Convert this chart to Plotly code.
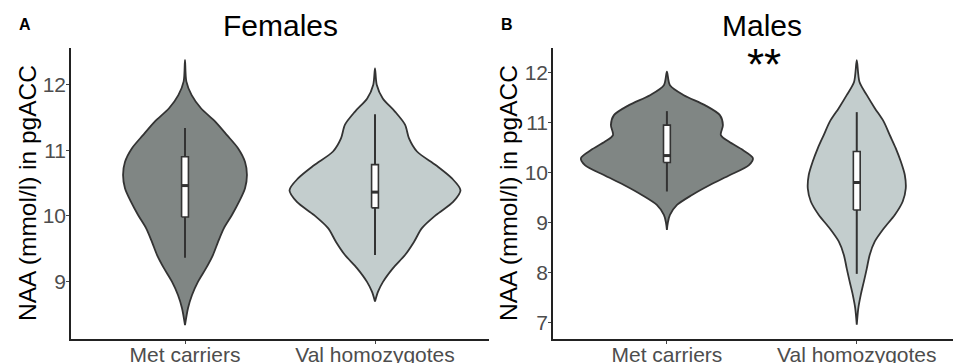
import plotly.graph_objects as go

# ---------------- data ----------------
categories = ["Met carriers", "Val homozygotes"]

# Violin outlines: NAA value (y) and half-width of the density (category units)
fem_met_y  = [12.38, 12.05, 11.84, 11.64, 11.44, 11.23, 11.03, 10.82, 10.62, 10.42,
              10.21, 10.01, 9.81, 9.60, 9.40, 9.20, 8.99, 8.79, 8.59, 8.33]
fem_met_hw = [0.0, 0.007, 0.035, 0.084, 0.158, 0.221, 0.279, 0.316, 0.326, 0.316,
              0.284, 0.247, 0.205, 0.174, 0.147, 0.111, 0.068, 0.037, 0.016, 0.0]

fem_val_y  = [12.25, 12.00, 11.79, 11.59, 11.39, 11.18, 10.98, 10.77, 10.57, 10.39,
              10.21, 10.01, 9.81, 9.60, 9.40, 9.20, 8.99, 8.84, 8.69]
fem_val_hw = [0.0, 0.009, 0.041, 0.105, 0.158, 0.179, 0.221, 0.321, 0.405, 0.450,
              0.411, 0.321, 0.247, 0.205, 0.158, 0.095, 0.042, 0.016, 0.0]

mal_met_y  = [12.02, 11.75, 11.55, 11.35, 11.15, 10.95, 10.75, 10.62, 10.45, 10.29,
              10.15, 9.95, 9.75, 9.55, 9.35, 9.15, 9.00, 8.85]
mal_met_hw = [0.0, 0.016, 0.089, 0.200, 0.279, 0.295, 0.284, 0.326, 0.400, 0.453,
              0.432, 0.332, 0.226, 0.132, 0.053, 0.016, 0.005, 0.0]

mal_val_y  = [12.25, 11.82, 11.55, 11.29, 11.02, 10.75, 10.49, 10.22, 9.95, 9.68,
              9.42, 9.15, 8.88, 8.62, 8.35, 8.08, 7.81, 7.55, 7.28, 6.95]
mal_val_hw = [0.0, 0.014, 0.053, 0.095, 0.142, 0.174, 0.205, 0.232, 0.253, 0.258,
              0.242, 0.200, 0.142, 0.095, 0.068, 0.053, 0.037, 0.021, 0.008, 0.0]

# Box summaries per category: [Met carriers, Val homozygotes]
fem_q1  = [9.98, 10.12]
fem_med = [10.46, 10.36]
fem_q3  = [10.90, 10.78]
fem_lo  = [9.36, 9.40]
fem_hi  = [11.34, 11.55]

mal_q1  = [10.20, 9.25]
mal_med = [10.34, 9.80]
mal_q3  = [10.95, 10.42]
mal_lo  = [9.62, 7.97]
mal_hi  = [11.23, 11.21]

y_label = "NAA (mmol/l) in pgACC"
fem_ticks = [9, 10, 11, 12]
mal_ticks = [7, 8, 9, 10, 11, 12]

# ---------------- styling ----------------
FILLS = ["#808684", "#c3cdcd"]
OUTLINE = "#333333"
FONT = "Liberation Sans, Arial, sans-serif"
BOX_HALF = 0.018

# page body margin offsets the figure by 8px, so the figure is sized to fit
OFF = 8
W, H = 961 - OFF, 363 - OFF


def fx(p):
    return (p - OFF) / W


def fy(p):
    return 1 - (p - OFF) / H


fig = go.Figure()


def add_violin(pos, ys, hws, color, xa, ya):
    xs = [pos + h for h in hws] + [pos - h for h in reversed(hws)]
    yy = list(ys) + list(reversed(ys))
    fig.add_trace(go.Scatter(
        x=xs, y=yy, mode="lines", fill="toself", fillcolor=color,
        line=dict(color=OUTLINE, width=1.8, shape="spline", smoothing=0.8),
        xaxis=xa, yaxis=ya, showlegend=False, hoverinfo="skip"))


def add_boxes(q1, med, q3, lo, hi, xa, ya):
    for i in range(len(categories)):
        pos = i + 1
        fig.add_trace(go.Scatter(
            x=[pos, pos], y=[lo[i], hi[i]], mode="lines",
            line=dict(color=OUTLINE, width=2), xaxis=xa, yaxis=ya,
            showlegend=False, hoverinfo="skip"))
        fig.add_trace(go.Scatter(
            x=[pos - BOX_HALF, pos + BOX_HALF, pos + BOX_HALF, pos - BOX_HALF, pos - BOX_HALF],
            y=[q1[i], q1[i], q3[i], q3[i], q1[i]], mode="lines", fill="toself",
            fillcolor="white", line=dict(color=OUTLINE, width=1.6),
            xaxis=xa, yaxis=ya, showlegend=False, hoverinfo="skip"))
        fig.add_trace(go.Scatter(
            x=[pos - BOX_HALF, pos + BOX_HALF], y=[med[i], med[i]], mode="lines",
            line=dict(color=OUTLINE, width=3), xaxis=xa, yaxis=ya,
            showlegend=False, hoverinfo="skip"))


add_violin(1, fem_met_y, fem_met_hw, FILLS[0], "x", "y")
add_violin(2, fem_val_y, fem_val_hw, FILLS[1], "x", "y")
add_boxes(fem_q1, fem_med, fem_q3, fem_lo, fem_hi, "x", "y")

add_violin(1, mal_met_y, mal_met_hw, FILLS[0], "x2", "y2")
add_violin(2, mal_val_y, mal_val_hw, FILLS[1], "x2", "y2")
add_boxes(mal_q1, mal_med, mal_q3, mal_lo, mal_hi, "x2", "y2")

axis_common = dict(showline=True, linecolor="#222222", linewidth=1.5,
                   ticks="outside", ticklen=3, tickwidth=1, tickcolor="#444444",
                   tickfont=dict(family=FONT, size=21, color="#4d4d4d"),
                   showgrid=False, zeroline=False, automargin=False)

ydom = [fy(339), fy(48)]
fig.update_layout(
    width=W, height=H, margin=dict(l=0, r=0, t=0, b=0),
    paper_bgcolor="white", plot_bgcolor="white", showlegend=False,
    xaxis=dict(domain=[fx(71), fx(489)], range=[0.4, 2.6],
               tickvals=[1, 2], ticktext=categories, anchor="y",
               ticklabelstandoff=-7, **axis_common),
    yaxis=dict(domain=ydom, range=[8.118, 12.56], tickvals=fem_ticks,
               anchor="x", ticklabelstandoff=-4, **axis_common),
    xaxis2=dict(domain=[fx(553), 1.0], range=[0.4, 2.549],
                tickvals=[1, 2], ticktext=categories, anchor="y2",
                ticklabelstandoff=-7, **axis_common),
    yaxis2=dict(domain=ydom, range=[6.665, 12.495], tickvals=mal_ticks,
                anchor="x2", ticklabelstandoff=-4, **axis_common),
)

ann = []
for cx, title, letter, lx, yx in [(280, "Females", "A", 25, 27), (762, "Males", "B", 507, 508)]:
    ann.append(dict(text=title, x=fx(cx), y=fy(25), xref="paper", yref="paper",
                    xanchor="center", yanchor="middle", showarrow=False,
                    font=dict(family=FONT, size=30, color="black")))
    ann.append(dict(text="<b>%s</b>" % letter, x=fx(lx), y=fy(24), xref="paper",
                    yref="paper", xanchor="center", yanchor="middle", showarrow=False,
                    font=dict(family=FONT, size=16, color="black")))
    ann.append(dict(text=y_label, x=fx(yx), y=fy(193), xref="paper", yref="paper",
                    xanchor="center", yanchor="middle", textangle=-90, showarrow=False,
                    font=dict(family=FONT, size=24.5, color="black")))
ann.append(dict(text="**", x=fx(764), y=fy(64), xref="paper", yref="paper",
                xanchor="center", yanchor="middle", showarrow=False,
                font=dict(family=FONT, size=44, color="black")))
fig.update_layout(annotations=ann)

fig.write_html("out.html")
